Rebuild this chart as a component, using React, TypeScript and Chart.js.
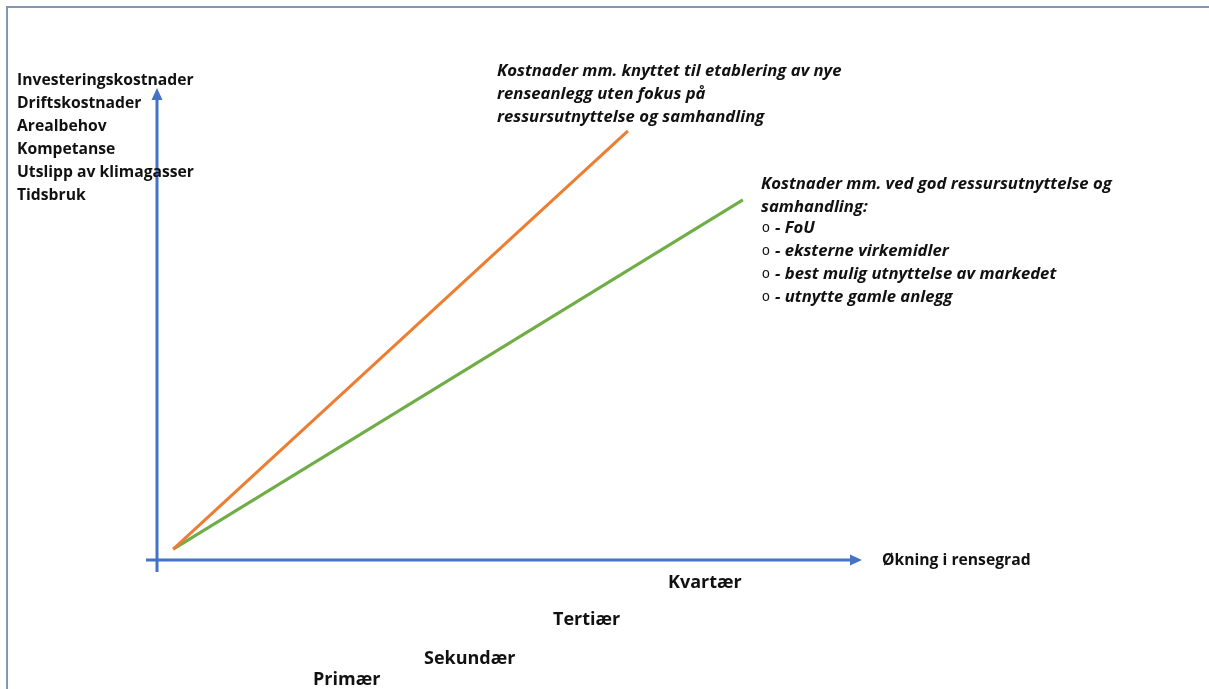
import React, { useEffect, useRef } from "react";
import { Chart, registerables } from "chart.js";

Chart.register(...registerables);

// ---- data (rensegrad on x, kostnader on y, both 0..100 relative units) ----
const seriesLabels = [
  "Uten fokus på ressursutnyttelse og samhandling",
  "God ressursutnyttelse og samhandling",
];
const orangeX = [2.3, 66.8];
const orangeY = [2.3, 90.9];
const greenX = [2.3, 83.1];
const greenY = [2.3, 76.3];

const yAxisItems = [
  "Investeringskostnader",
  "Driftskostnader",
  "Arealbehov",
  "Kompetanse",
  "Utslipp av klimagasser",
  "Tidsbruk",
];
const xAxisTitle = "Økning i rensegrad";
const levels = ["Primær", "Sekundær", "Tertiær", "Kvartær"];
const orangeNote = [
  "Kostnader mm. knyttet til etablering av nye",
  "renseanlegg uten fokus på",
  "ressursutnyttelse og samhandling",
];
const greenNote = ["Kostnader mm. ved god ressursutnyttelse og", "samhandling:"];
const greenBullets = [
  "- FoU",
  "- eksterne virkemidler",
  "- best mulig utnyttelse av markedet",
  "- utnytte gamle anlegg",
];

const BLUE = "#4472C4";
const ORANGE = "#ED7D31";
const GREEN = "#70AD47";
const TEXT = "#111111";

const toPoints = (xs: number[], ys: number[]) => xs.map((x, i) => ({ x, y: ys[i] }));

const diagramPlugin = {
  id: "diagram",
  beforeDatasetsDraw(chart: any) {
    const ctx = chart.ctx as CanvasRenderingContext2D;
    const xs = chart.scales.x;
    const ys = chart.scales.y;
    const ox = xs.getPixelForValue(0);
    const oy = ys.getPixelForValue(0);
    const top = ys.getPixelForValue(100);
    const right = xs.getPixelForValue(100);
    ctx.save();
    // frame
    ctx.strokeStyle = "#8497B0";
    ctx.lineWidth = 2;
    ctx.beginPath();
    ctx.moveTo(7, 689);
    ctx.lineTo(7, 7);
    ctx.lineTo(1209, 7);
    ctx.stroke();
    // axes
    ctx.strokeStyle = BLUE;
    ctx.fillStyle = BLUE;
    ctx.lineWidth = 3;
    ctx.beginPath();
    ctx.moveTo(ox, oy + 12);
    ctx.lineTo(ox, top + 10);
    ctx.moveTo(ox - 11, oy);
    ctx.lineTo(right - 10, oy);
    ctx.stroke();
    ctx.beginPath();
    ctx.moveTo(ox, top);
    ctx.lineTo(ox - 5.5, top + 12);
    ctx.lineTo(ox + 5.5, top + 12);
    ctx.closePath();
    ctx.fill();
    ctx.beginPath();
    ctx.moveTo(right, oy);
    ctx.lineTo(right - 12, oy - 5.5);
    ctx.lineTo(right - 12, oy + 5.5);
    ctx.closePath();
    ctx.fill();
    ctx.restore();
  },
  afterDraw(chart: any) {
    const ctx = chart.ctx as CanvasRenderingContext2D;
    ctx.save();
    ctx.fillStyle = TEXT;
    ctx.textBaseline = "alphabetic";
    ctx.textAlign = "left";
    const bold = "bold 15.7px 'Open Sans'";
    const boldLevel = "bold 18px 'Open Sans'";
    const boldItalic = "italic bold 16.7px 'Open Sans'";
    ctx.font = bold;
    yAxisItems.forEach((t, i) => ctx.fillText(t, 17, 85 + i * 22.9));
    ctx.fillText(xAxisTitle, 882, 565);
    const levelPos = [
      [313, 685],
      [424, 664],
      [553, 625],
      [668, 588],
    ];
    ctx.font = boldLevel;
    levels.forEach((t, i) => ctx.fillText(t, levelPos[i][0], levelPos[i][1]));
    ctx.font = boldItalic;
    orangeNote.forEach((t, i) => ctx.fillText(t, 497, 76 + i * 23));
    greenNote.forEach((t, i) => ctx.fillText(t, 761, 189 + i * 23));
    greenBullets.forEach((t, i) => {
      const y = 233 + i * 23;
      ctx.font = "14px 'Liberation Sans'";
      ctx.fillText("o", 762, y - 1);
      ctx.font = boldItalic;
      ctx.fillText(t, 775, y);
    });
    ctx.restore();
  },
};

export default function App() {
  const ref = useRef<HTMLCanvasElement | null>(null);
  useEffect(() => {
    if (!ref.current) return;
    const chart = new Chart(ref.current, {
      type: "line",
      data: {
        datasets: [
          {
            label: seriesLabels[0],
            data: toPoints(orangeX, orangeY),
            borderColor: ORANGE,
            borderWidth: 3,
            pointRadius: 0,
            tension: 0,
          },
          {
            label: seriesLabels[1],
            data: toPoints(greenX, greenY),
            borderColor: GREEN,
            borderWidth: 3,
            pointRadius: 0,
            tension: 0,
          },
        ],
      },
      options: {
        animation: false,
        responsive: false,
        layout: { padding: { left: 157, right: 347, top: 88, bottom: 129 } },
        plugins: { legend: { display: false }, tooltip: { enabled: false } },
        scales: {
          x: { type: "linear", min: 0, max: 100, display: false },
          y: { type: "linear", min: 0, max: 100, display: false },
        },
      },
      plugins: [diagramPlugin],
    });
    return () => chart.destroy();
  }, []);
  return (
    <div style={{ position: "fixed", left: 0, top: 0, width: 1209, height: 689, background: "#fff" }}>
      <canvas ref={ref} width={1209} height={689} />
    </div>
  );
}
